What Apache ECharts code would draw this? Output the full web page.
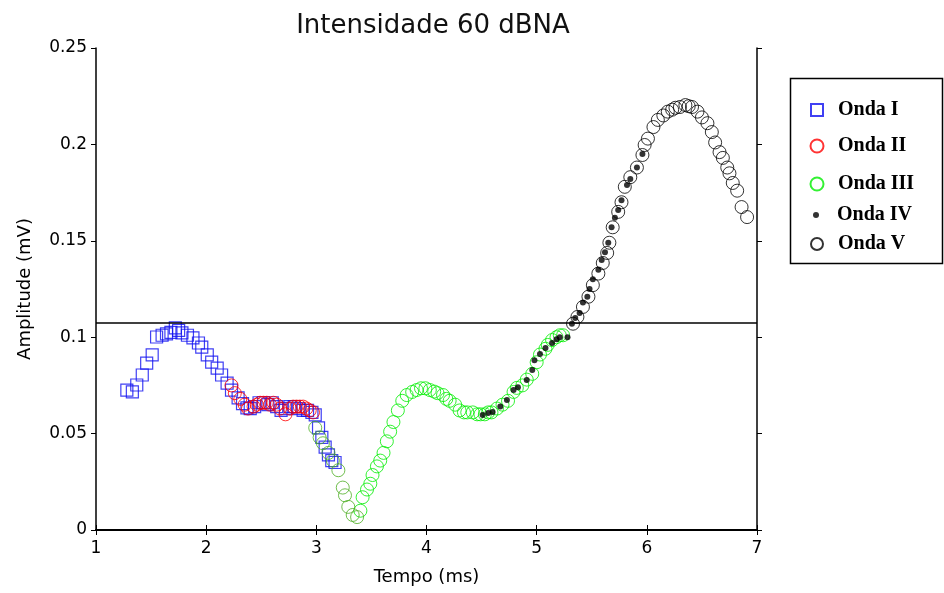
<!DOCTYPE html>
<html>
<head>
<meta charset="utf-8">
<script src="https://cdn.jsdelivr.net/npm/echarts@6/dist/echarts.min.js"></script>
<style>html,body{margin:0;padding:0;background:#fff}#c{width:944px;height:593px}</style>
</head>
<body>
<div id="c"></div>
<script>
// ---- data (time in ms, amplitude in mV) ----
var ondaI_t = [1.28,1.33,1.37,1.42,1.46,1.51,1.55,1.60,1.64,1.68,1.72,1.75,1.78,1.83,1.88,1.93,1.96,2.01,2.05,2.10,2.14,2.19,2.23,2.29,2.33,2.37,2.40,2.44,2.48,2.52,2.56,2.60,2.64,2.68,2.72,2.76,2.80,2.84,2.88,2.92,2.96,2.99,3.02,3.05,3.08,3.11,3.14,3.17];
var ondaI_v = [0.0726,0.0716,0.0752,0.0804,0.0866,0.0908,0.1001,0.101,0.1017,0.1025,0.1048,0.1035,0.1022,0.101,0.0996,0.097,0.0949,0.0908,0.0871,0.084,0.0804,0.0762,0.0726,0.0685,0.0655,0.0633,0.063,0.064,0.066,0.066,0.065,0.066,0.064,0.062,0.063,0.064,0.064,0.063,0.062,0.062,0.061,0.0597,0.053,0.048,0.043,0.039,0.036,0.035];

var ondaII_t = [2.23,2.26,2.31,2.35,2.38,2.43,2.46,2.49,2.52,2.55,2.58,2.61,2.64,2.67,2.72,2.76,2.79,2.82,2.85,2.88,2.91,2.94,2.97];
var ondaII_v = [0.075,0.071,0.068,0.065,0.063,0.064,0.065,0.066,0.066,0.066,0.065,0.066,0.065,0.063,0.060,0.063,0.064,0.064,0.064,0.064,0.063,0.062,0.061];

// first (descending) part of Onda III, drawn in a darker green
var ondaIIIa_t = [2.99,3.03,3.06,3.11,3.15,3.20,3.24,3.26,3.29,3.33,3.37];
var ondaIIIa_v = [0.053,0.048,0.045,0.040,0.036,0.031,0.022,0.018,0.012,0.0078,0.0067];

var ondaIII_t = [3.40,3.42,3.46,3.49,3.51,3.55,3.58,3.61,3.64,3.67,3.70,3.74,3.78,3.82,3.87,3.91,3.95,3.99,4.03,4.07,4.10,4.15,4.18,4.21,4.26,4.30,4.34,4.37,4.42,4.46,4.49,4.53,4.56,4.59,4.64,4.69,4.74,4.79,4.82,4.87,4.91,4.96,5.00,5.03,5.08,5.10,5.14,5.18,5.21,5.24];
var ondaIII_v = [0.010,0.017,0.021,0.024,0.0285,0.033,0.036,0.040,0.046,0.051,0.056,0.062,0.067,0.070,0.0716,0.0726,0.0735,0.0735,0.0726,0.0718,0.071,0.070,0.068,0.067,0.065,0.062,0.061,0.061,0.061,0.060,0.060,0.060,0.061,0.061,0.063,0.065,0.067,0.0716,0.0737,0.075,0.078,0.081,0.087,0.091,0.094,0.096,0.0985,0.100,0.101,0.101];

var ondaIV_t = [4.51,4.56,4.60,4.67,4.73,4.79,4.83,4.91,4.96,4.98,5.03,5.08,5.14,5.18,5.21,5.28,5.32,5.35,5.39,5.42,5.46,5.48,5.51,5.56,5.59,5.62,5.65,5.68,5.71,5.74,5.77,5.82,5.85,5.91,5.96];
var ondaIV_v = [0.0597,0.0607,0.0612,0.064,0.0674,0.0726,0.074,0.0778,0.083,0.088,0.0913,0.0944,0.097,0.099,0.100,0.100,0.107,0.110,0.1125,0.118,0.121,0.125,0.130,0.135,0.140,0.144,0.149,0.157,0.162,0.166,0.171,0.179,0.182,0.188,0.195];

var ondaV_t = [5.33,5.37,5.42,5.47,5.51,5.56,5.60,5.64,5.66,5.69,5.74,5.77,5.80,5.85,5.91,5.96,5.98,6.01,6.06,6.10,6.15,6.19,6.23,6.26,6.30,6.35,6.38,6.41,6.46,6.50,6.55,6.59,6.62,6.66,6.69,6.73,6.75,6.78,6.82,6.86,6.91];
var ondaV_v = [0.107,0.1105,0.1157,0.121,0.127,0.133,0.1385,0.1437,0.149,0.157,0.165,0.170,0.178,0.183,0.188,0.1945,0.1997,0.203,0.209,0.2127,0.215,0.217,0.218,0.219,0.2194,0.2204,0.2198,0.2194,0.217,0.214,0.211,0.2064,0.201,0.196,0.193,0.188,0.185,0.180,0.176,0.1675,0.1623];

var thresholdValue = 0.1074;

var seriesNames = ['Onda I','Onda II','Onda III','Onda IV','Onda V'];

function pairs(t, v){ return t.map(function(x,i){ return [x, v[i]]; }); }

var sansFont = '"DejaVu Sans", sans-serif';
var legendCenters = [110, 146, 184, 215, 244];
var legendSizes = [12, 13, 13, 6, 12];

var chart = echarts.init(document.getElementById('c'));

var axisLine = {show:true, lineStyle:{color:'#000', width:1.5}};
var axisTick = {show:true, inside:false, length:5, lineStyle:{color:'#000', width:1}};

var legends = seriesNames.map(function(n, i){
  var s = legendSizes[i];
  return {
    data:[n], left:816 - s/2, top:legendCenters[i] - 11, orient:'vertical', padding:0,
    itemWidth:s, itemHeight:s, selectedMode:false,
    textStyle:{fontFamily:'"Liberation Serif", serif', fontWeight:'bold', fontSize:20, lineHeight:22,
      color:'#000', padding:[0,0,0,16 - s/2]}
  };
});

var option = {
  animation:false,
  backgroundColor:'#fff',
  title:{text:'Intensidade 60 dBNA', left:428, textAlign:'center', top:8,
    textStyle:{fontFamily:sansFont, fontWeight:'normal', fontSize:26, color:'#111'}},
  legend: legends,
  graphic:[{type:'rect', shape:{x:790.5, y:78.5, width:152, height:185}, style:{fill:'none', stroke:'#000', lineWidth:1.5}, z:100}],
  grid:{left:96, right:187, top:48, bottom:63, containLabel:false},
  xAxis:[
    {type:'value', min:1, max:7, interval:1, position:'bottom',
     name:'Tempo (ms)', nameLocation:'middle', nameGap:38,
     nameTextStyle:{fontFamily:sansFont, fontSize:18, color:'#000'},
     axisLine:{show:true, lineStyle:{color:'#000', width:2}}, axisTick:axisTick, splitLine:{show:false},
     axisLabel:{fontFamily:sansFont, fontSize:17, color:'#000', margin:10}},
    {type:'value', min:1, max:7, interval:1, position:'top',
     axisLine:axisLine, axisTick:axisTick, splitLine:{show:false}, axisLabel:{show:false}}
  ],
  yAxis:[
    {type:'value', min:0, max:0.25, interval:0.05, position:'left',
     name:'Amplitude (mV)', nameLocation:'middle', nameGap:62, nameRotate:90,
     nameTextStyle:{fontFamily:sansFont, fontSize:18, color:'#000'},
     axisLine:axisLine, axisTick:axisTick, splitLine:{show:false},
     axisLabel:{fontFamily:sansFont, fontSize:17, color:'#000', margin:9}},
    {type:'value', min:0, max:0.25, interval:0.05, position:'right',
     axisLine:axisLine, axisTick:axisTick, splitLine:{show:false}, axisLabel:{show:false}}
  ],
  series:[
    {name:'Onda I', type:'scatter', symbol:'rect', symbolSize:12, data:pairs(ondaI_t, ondaI_v),
     itemStyle:{color:'rgba(0,0,0,0)', borderColor:'#1010f0', borderWidth:1.2}, z:2,
     markLine:{silent:true, precision:4, symbol:['none','none'], label:{show:false},
       lineStyle:{color:'#000', width:1.5, type:'solid'}, data:[{yAxis:thresholdValue}]}},
    {name:'Onda II', type:'scatter', symbol:'circle', symbolSize:13, data:pairs(ondaII_t, ondaII_v),
     itemStyle:{color:'rgba(0,0,0,0)', borderColor:'#ff0000', borderWidth:1}, z:3},
    {name:'Onda III', type:'scatter', symbol:'circle', symbolSize:13, data:pairs(ondaIII_t, ondaIII_v),
     itemStyle:{color:'rgba(0,0,0,0)', borderColor:'#00ee00', borderWidth:1}, z:4},
    {name:'Onda III', type:'scatter', symbol:'circle', symbolSize:13, data:pairs(ondaIIIa_t, ondaIIIa_v),
     itemStyle:{color:'rgba(0,0,0,0)', borderColor:'#4cae22', borderWidth:1}, z:4},
    {name:'Onda V', type:'scatter', symbol:'circle', symbolSize:13, data:pairs(ondaV_t, ondaV_v),
     itemStyle:{color:'rgba(0,0,0,0)', borderColor:'#000', borderWidth:1}, z:5},
    {name:'Onda IV', type:'scatter', symbol:'circle', symbolSize:6, data:pairs(ondaIV_t, ondaIV_v),
     itemStyle:{color:'#000', borderWidth:0}, z:6}
  ]
};
chart.setOption(option);
</script>
</body>
</html>
